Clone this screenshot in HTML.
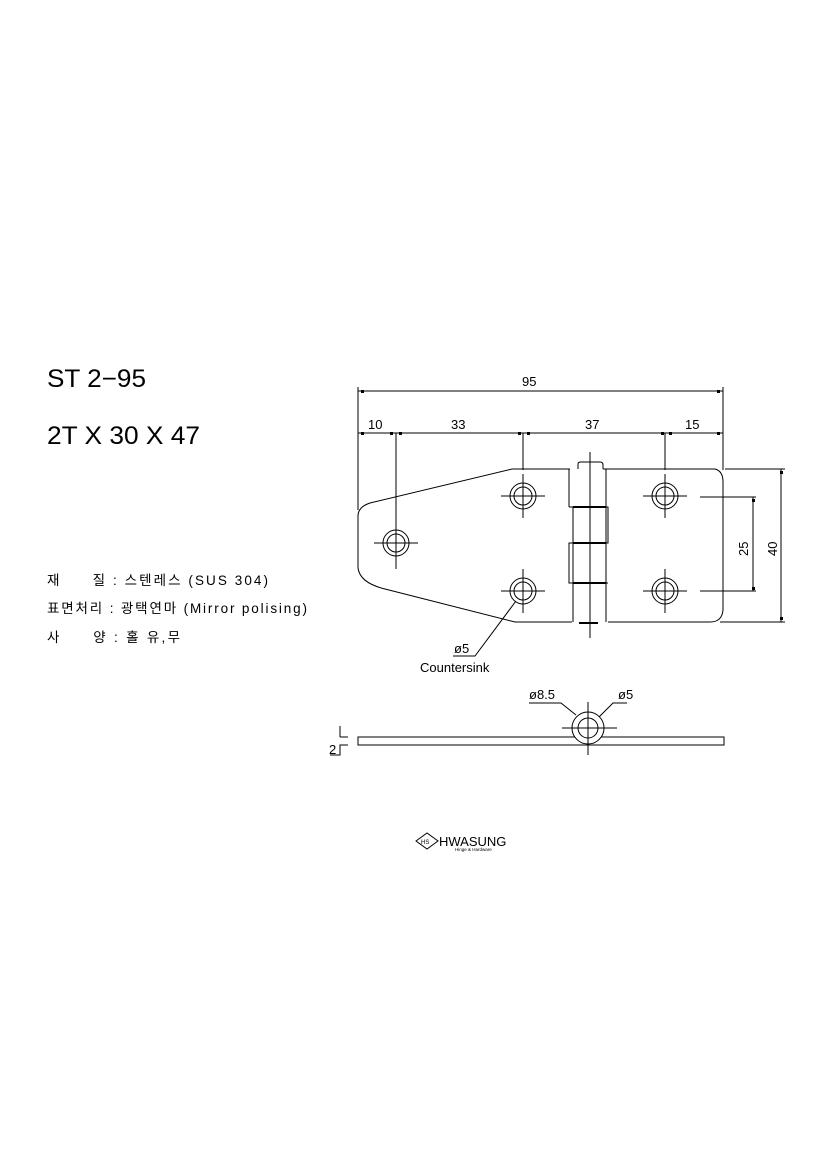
<!DOCTYPE html>
<html><head><meta charset="utf-8"><style>
html,body{margin:0;padding:0;background:#fff;width:827px;height:1169px;overflow:hidden}
svg{display:block}
text{font-family:"Liberation Sans","Noto Sans CJK KR",sans-serif;fill:#000}
</style></head><body>
<svg width="827" height="1169" viewBox="0 0 827 1169" xmlns="http://www.w3.org/2000/svg">
<g>
<text x="47" y="387" font-size="25" textLength="99" lengthAdjust="spacingAndGlyphs">ST 2−95</text>
<text x="47" y="444" font-size="25" textLength="153" lengthAdjust="spacingAndGlyphs">2T X 30 X 47</text>
<text x="47" y="585" font-size="13.5" textLength="221" lengthAdjust="spacing">재　　질 : 스텐레스 (SUS 304)</text>
<text x="47" y="613" font-size="13.5" textLength="260" lengthAdjust="spacing">표면처리 : 광택연마 (Mirror polising)</text>
<text x="47" y="642" font-size="13.5" textLength="133" lengthAdjust="spacing">사　　양 : 홀 유,무</text>
</g>
<g stroke="#000" stroke-width="1" fill="none">
<!-- dimension lines -->
<line x1="358" y1="391" x2="723" y2="391"/>
<line x1="358" y1="433" x2="723" y2="433"/>
<line x1="358" y1="387" x2="358" y2="510"/>
<line x1="723" y1="387" x2="723" y2="470"/>
<line x1="396" y1="433" x2="396" y2="520"/>
<line x1="523" y1="433" x2="523" y2="470"/>
<line x1="665" y1="433" x2="665" y2="470"/>
<!-- right dims -->
<line x1="725" y1="469" x2="785" y2="469"/>
<line x1="720" y1="622" x2="785" y2="622"/>
<line x1="700" y1="497" x2="756" y2="497"/>
<line x1="700" y1="591" x2="756" y2="591"/>
<line x1="753" y1="497" x2="753" y2="591"/>
<line x1="781" y1="469" x2="781" y2="622"/>
<!-- left plate -->
<path d="M570 469 L512 469 L370 503 Q358 507 358 516 L358 568 Q360 583 385 589 L515 622 L572 622"/>
<line x1="569" y1="469" x2="569" y2="507"/>
<!-- knuckle -->
<path d="M573 507 L573 622 M606 622 L606 469 M569 507 L608 507 L608 543 L569 543 L569 583 L608 583"/>
<line x1="573" y1="507" x2="606" y2="507" stroke-width="2"/>
<line x1="573" y1="543" x2="606" y2="543" stroke-width="2"/>
<line x1="573" y1="583" x2="606" y2="583" stroke-width="2"/>
<line x1="579" y1="623" x2="598" y2="623" stroke-width="2"/>
<path d="M578 469 L578 464 Q578 462 581 462 L600 462 Q603 462 603 465 L603 469"/>
<line x1="590" y1="452" x2="590" y2="638"/>
<!-- right plate -->
<path d="M603 469 L715 469 Q723 471 723 482 L723 610 Q722 622 710 622 L608 622"/>
</g>
<g stroke="#000" stroke-width="1" fill="none" id="holes">
<g transform="translate(523,496)"><circle r="13"/><circle r="9"/><line x1="-22" x2="22"/><line y1="-22" y2="22"/></g>
<g transform="translate(523,591)"><circle r="13"/><circle r="9"/><line x1="-22" x2="22"/><line y1="-22" y2="22"/></g>
<g transform="translate(665,496)"><circle r="13"/><circle r="9"/><line x1="-22" x2="22"/><line y1="-22" y2="22"/></g>
<g transform="translate(665,591)"><circle r="13"/><circle r="9"/><line x1="-22" x2="22"/><line y1="-22" y2="22"/></g>
<g transform="translate(396,543)"><circle r="13"/><circle r="9"/><line x1="-22" x2="22"/><line y1="-26" y2="26"/></g>
<!-- leader -->
<path d="M453 656 L475 656 L516 601"/>
</g>
<g fill="#000">
<rect x="361" y="390" width="3" height="3"/><rect x="717" y="390" width="3" height="3"/>
<rect x="361" y="432" width="3" height="3"/><rect x="390" y="432" width="3" height="3"/><rect x="399" y="432" width="3" height="3"/>
<rect x="518" y="432" width="3" height="3"/><rect x="527" y="432" width="3" height="3"/><rect x="661" y="432" width="3" height="3"/>
<rect x="669" y="432" width="3" height="3"/><rect x="717" y="432" width="3" height="3"/>
<rect x="752" y="499" width="3" height="3"/><rect x="752" y="587" width="3" height="3"/>
<rect x="780" y="471" width="3" height="3"/><rect x="780" y="617" width="3" height="3"/>
</g>
<g font-size="13">
<text x="522" y="386">95</text>
<text x="368" y="429">10</text>
<text x="451" y="429">33</text>
<text x="585" y="429">37</text>
<text x="685" y="429">15</text>
<text x="0" y="0" transform="translate(748,556) rotate(-90)">25</text>
<text x="0" y="0" transform="translate(777,556) rotate(-90)">40</text>
<text x="454" y="653">ø5</text>
<text x="420" y="672">Countersink</text>
</g>
<!-- side view -->
<g stroke="#000" stroke-width="1" fill="none">
<rect x="358" y="737" width="366" height="8"/>
<circle cx="588" cy="728" r="16" fill="#fff"/>
<circle cx="588" cy="728" r="10"/>
<line x1="562" y1="728" x2="617" y2="728"/>
<line x1="588" y1="702" x2="588" y2="755"/>
<path d="M529 703 L561 703 L576 715"/>
<path d="M627 703 L613 703 L599 717"/>
<path d="M348 737 L340 737 M340 726 L340 737 M348 745 L340 745 L340 755 L330 755"/>
</g>
<g font-size="13">
<text x="529" y="699">ø8.5</text>
<text x="618" y="699">ø5</text>
<text x="329" y="754">2</text>
</g>
<!-- logo -->
<g stroke="#000" stroke-width="1" fill="none">
<path d="M416 841 L427 833 L438 841 L427 849 Z"/>
</g>
<text x="421" y="844" font-size="6">HS</text>
<text x="439" y="846" font-size="13">HWASUNG</text>
<text x="455" y="851" font-size="4.5">Hinge &amp; Hardware</text>
</svg>
</body></html>
